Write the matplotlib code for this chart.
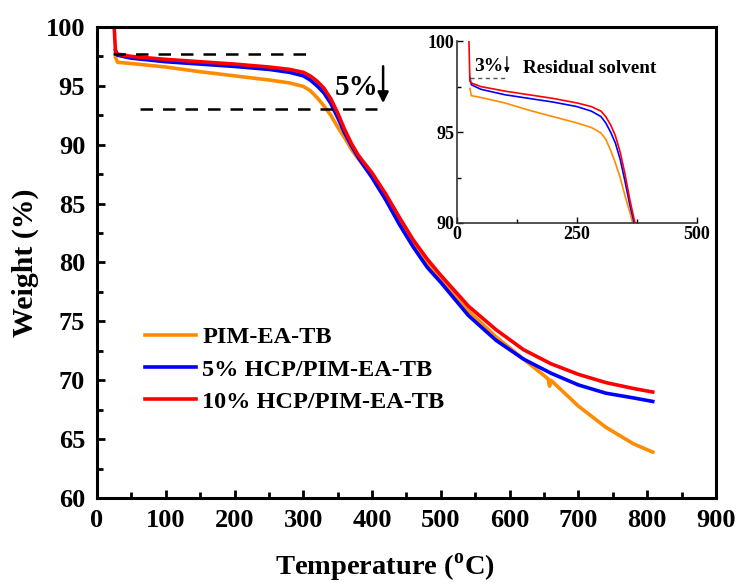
import numpy as np
import matplotlib
matplotlib.use('Agg')
import matplotlib.pyplot as plt

# Font setup (Times-like bold)
plt.rcParams['font.family'] = 'Liberation Serif'
plt.rcParams['font.weight'] = 'bold'
plt.rcParams['axes.labelweight'] = 'bold'
plt.rcParams['mathtext.fontset'] = 'custom'
plt.rcParams['mathtext.rm'] = 'Liberation Serif:bold'
plt.rcParams['mathtext.bf'] = 'Liberation Serif:bold'

# TGA data
tempPim = [27, 30, 50, 100, 150, 200, 250, 280, 300, 310, 320, 330, 340, 350, 360, 370, 380, 400, 420,
           440, 460, 480, 500, 540, 580, 620, 650, 656, 658, 660, 700, 740, 780, 808]
wPim = [97.4, 97.0, 96.9, 96.6, 96.2, 95.85, 95.5, 95.25, 94.95, 94.6, 94.0, 93.3, 92.5, 91.5, 90.6, 89.6, 88.8, 87.3, 85.5,
        83.5, 81.6, 80.0, 78.6, 75.9, 73.7, 71.8, 70.4, 70.1, 69.5, 70.0, 67.8, 66.0, 64.6, 63.9]

temp5 = [27, 30, 50, 100, 150, 200, 250, 280, 300, 310, 320, 330, 340, 350, 360, 370, 380, 400, 420,
         440, 460, 480, 500, 540, 580, 620, 660, 700, 740, 780, 808]
w5 = [98.0, 97.6, 97.35, 97.05, 96.85, 96.65, 96.4, 96.15, 95.85, 95.5, 95.0, 94.4, 93.5, 92.3, 91.0, 89.9, 88.9, 87.2, 85.3,
      83.2, 81.3, 79.6, 78.3, 75.5, 73.4, 71.8, 70.6, 69.6, 68.9, 68.5, 68.2]

temp10 = [25, 27, 30, 50, 100, 150, 200, 250, 280, 300, 310, 320, 330, 340, 350, 360, 370, 380, 400, 420,
          440, 460, 480, 500, 540, 580, 620, 660, 700, 740, 780, 808]
w10 = [100.0, 97.8, 97.7, 97.5, 97.25, 97.05, 96.85, 96.6, 96.4, 96.15, 95.85, 95.4, 94.8, 93.9, 92.7, 91.3, 90.1, 89.1, 87.6, 85.8,
       83.8, 81.9, 80.3, 78.9, 76.3, 74.3, 72.6, 71.4, 70.5, 69.8, 69.3, 69.0]

labels = ['PIM-EA-TB', '5% HCP/PIM-EA-TB', '10% HCP/PIM-EA-TB']
colors = ['#FF8C00', '#0000FF', '#FF0000']

fig = plt.figure(figsize=(7.37, 5.83), dpi=100)
ax = fig.add_axes([0.1316, 0.1458, 0.8399, 0.8079])

ax.plot(tempPim, wPim, color=colors[0], lw=2.6, label=labels[0])
ax.plot(temp5, w5, color=colors[1], lw=2.6, label=labels[1])
ax.plot(temp10, w10, color=colors[2], lw=2.6, label=labels[2])

# 5% markers
ax.plot([24, 305], [97.7, 97.7], 'k--', lw=1.8, dashes=(5, 4))
ax.plot([62, 407], [93.0, 93.0], 'k--', lw=1.8, dashes=(5, 4))
ax.annotate('', xy=(416, 93.3), xytext=(416, 96.9),
            arrowprops=dict(arrowstyle='-|>', color='k', lw=1.8, mutation_scale=16))
ax.text(377, 94.9, '5%', fontsize=21, ha='center', va='center')

ax.set_xlim(0, 900)
ax.set_ylim(60, 100)
ax.set_xticks(np.arange(0, 901, 100))
ax.set_xticks(np.arange(50, 900, 100), minor=True)
ax.set_yticks(np.arange(60, 101, 5))
ax.set_yticks(np.arange(62.5, 100, 5), minor=True)
ax.tick_params(which='both', direction='in', width=2, labelsize=19)
ax.tick_params(which='major', length=6)
ax.tick_params(which='minor', length=4)
ax.tick_params(axis='x', pad=8)
ax.tick_params(axis='y', pad=8.5)
for s in ax.spines.values():
    s.set_linewidth(2.2)

ax.set_xlabel(r'Temperature ($^{\mathregular{o}}$C)', fontsize=20.5)
ax.xaxis.set_label_coords(0.465, -0.115)
ax.set_ylabel('Weight (%)', fontsize=21.5)
ax.yaxis.set_label_coords(-0.093, 0.5)

ax.legend(loc='upper left', bbox_to_anchor=(0.062, 0.385), frameon=False, fontsize=17.5,
          handlelength=2.1, handletextpad=0.25, labelspacing=0.42, borderaxespad=0)

# inset
ins = fig.add_axes([0.620, 0.6175, 0.3257, 0.312])
ins.plot(tempPim, wPim, color=colors[0], lw=1.2)
ins.plot(temp5, w5, color=colors[1], lw=1.2)
ins.plot(temp10, w10, color=colors[2], lw=1.2)
ins.plot([28, 106], [97.97, 97.97], color='#555555', ls='--', lw=1, dashes=(3, 2.5))
ins.annotate('', xy=(104, 98.1), xytext=(104, 99.3),
             arrowprops=dict(arrowstyle='-|>', color='k', lw=0.9, mutation_scale=7))
ins.text(66, 98.6, '3%', fontsize=14, ha='center', va='center')
ins.text(138, 98.5, 'Residual solvent', fontsize=13.8, ha='left', va='center')
ins.set_xlim(0, 500)
ins.set_ylim(90, 100)
ins.set_xticks([0, 250, 500])
ins.set_xticks([125, 375], minor=True)
ins.set_yticks([90, 95, 100])
ins.set_yticks([92.5, 97.5], minor=True)
ins.spines['top'].set_visible(False)
ins.spines['right'].set_visible(False)
for s in ['left', 'bottom']:
    ins.spines[s].set_linewidth(1.2)
    ins.spines[s].set_color('#333333')
ins.tick_params(which='both', direction='in', labelsize=13, width=1, pad=2)
ins.tick_params(which='major', length=4)
ins.tick_params(which='minor', length=3)
ins.patch.set_alpha(0)

fig.savefig('out.png', dpi=100)
